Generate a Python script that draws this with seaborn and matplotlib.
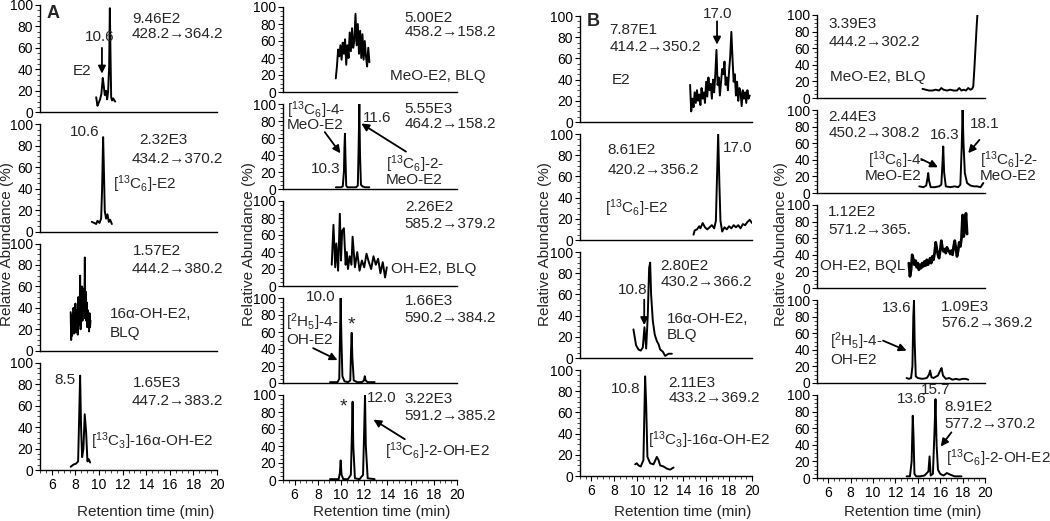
import matplotlib
matplotlib.use('Agg')
import matplotlib.pyplot as plt
from matplotlib.ticker import MultipleLocator
import seaborn as sns

sns.set_style('ticks')
plt.rcParams['font.family'] = ['Liberation Sans', 'DejaVu Sans']
plt.rcParams['mathtext.fontset'] = 'custom'
plt.rcParams['mathtext.rm'] = 'Liberation Sans'
plt.rcParams['mathtext.it'] = 'Liberation Sans:italic'
plt.rcParams['mathtext.bf'] = 'Liberation Sans:bold'

# ---- chromatogram traces (retention time in min, relative abundance in %) ----
# panel A, left column
a_e2_t = [9.76, 9.87, 9.98, 10.09, 10.2, 10.32, 10.4, 10.49, 10.6, 10.69, 10.77, 10.86, 10.92, 10.97, 11.03, 11.11, 11.2, 11.3, 11.37]
a_e2_y = [14, 6, 9, 12, 17, 32, 25, 16, 20, 12, 19, 43, 97, 58, 14, 11, 13, 11, 10]
a_c13e2_t = [9.39, 9.59, 9.76, 9.87, 10.04, 10.18, 10.26, 10.35, 10.41, 10.49, 10.6, 10.72, 10.83, 10.94, 11.09]
a_c13e2_y = [9, 8, 7, 10, 8, 12, 39, 88, 60, 19, 12, 16, 9, 11, 7]
a_oh16_t = [7.60, 7.64, 7.68, 7.72, 7.76, 7.80, 7.84, 7.88, 7.92, 7.96, 8.00, 8.04, 8.08, 8.12, 8.16,
            8.20, 8.24, 8.28, 8.32, 8.36, 8.40, 8.44, 8.48, 8.52, 8.56, 8.60, 8.64, 8.68, 8.72, 8.76,
            8.80, 8.84, 8.88, 8.92, 8.96, 9.00, 9.04, 9.08, 9.12, 9.16, 9.20, 9.24, 9.28]
a_oh16_y = [36, 10, 30, 14, 34, 18, 40, 16, 28, 20, 44, 17, 33, 22, 38,
            15, 50, 24, 42, 30, 70, 20, 55, 35, 60, 28, 52, 38, 58, 40,
            87, 30, 55, 28, 45, 22, 38, 25, 33, 18, 35, 22, 28]
a_c13oh16_t = [7.60, 7.83, 8.06, 8.23, 8.31, 8.40, 8.48, 8.57, 8.68, 8.79, 8.91, 9.02, 9.13, 9.25]
a_c13oh16_y = [3, 5, 6, 8, 45, 88, 40, 12, 20, 52, 35, 8, 10, 7]

# panel A, right column
a_meo_t = [9.55, 9.65, 9.75, 9.85, 9.95, 10.05, 10.15, 10.25, 10.35, 10.45, 10.55, 10.65, 10.75, 10.85, 10.95,
           11.05, 11.15, 11.25, 11.35, 11.45, 11.55, 11.65, 11.75, 11.85, 11.95, 12.05, 12.15, 12.25, 12.35, 12.45]
a_meo_y = [16, 30, 50, 42, 55, 38, 58, 45, 62, 32, 55, 40, 70, 48, 75,
           52, 60, 92, 55, 80, 45, 72, 40, 68, 38, 60, 42, 30, 52, 35]
a_c13meo_t = [9.56, 9.8, 10.0, 10.15, 10.25, 10.30, 10.34, 10.38, 10.45, 10.55, 10.8, 11.1, 11.3, 11.45,
              11.52, 11.58, 11.64, 11.72, 11.85, 12.1, 12.44]
a_c13meo_y = [2, 2, 2, 3, 20, 50, 65, 40, 4, 2, 2, 2, 2, 4, 50, 100, 40, 5, 3, 2, 2]
a_oh_t = [9.2, 9.35, 9.5, 9.6, 9.75, 9.9, 10.0, 10.1, 10.25, 10.4, 10.5, 10.6, 10.75, 10.9, 11.0,
          11.2, 11.4, 11.6, 11.8, 12.0, 12.2, 12.4, 12.6, 12.8, 13.0, 13.2, 13.4, 13.6, 13.8, 13.95]
a_oh_y = [25, 72, 22, 50, 18, 85, 30, 65, 68, 25, 40, 20, 35, 25, 58,
          22, 40, 18, 30, 22, 38, 28, 20, 35, 25, 32, 15, 28, 10, 22]
a_d5oh_t = [9.05, 9.4, 9.7, 9.85, 9.92, 9.97, 10.03, 10.12, 10.3, 10.6, 10.8, 10.87, 10.92, 10.98, 11.1,
            11.4, 11.8, 11.98, 12.05, 12.12, 12.3, 12.9]
a_d5oh_y = [1, 1, 1, 5, 60, 100, 55, 8, 2, 1, 3, 40, 59, 30, 3, 1, 1, 3, 8, 3, 1, 1]
a_c13oh_t = [9.05, 9.5, 9.8, 9.9, 9.97, 10.05, 10.2, 10.6, 10.85, 10.95, 11.0, 11.06, 11.2, 11.6,
             11.9, 12.0, 12.07, 12.14, 12.3, 12.9]
a_c13oh_y = [1, 1, 1, 8, 23, 6, 1, 1, 6, 60, 92, 40, 2, 1, 6, 60, 100, 40, 2, 1]

# panel B, left column
b_e2_t = [14.6, 14.7, 14.8, 14.9, 15.0, 15.1, 15.2, 15.3, 15.4, 15.5, 15.6, 15.7, 15.8, 15.9, 16.0, 16.1, 16.2, 16.3,
          16.4, 16.5, 16.6, 16.7, 16.8, 16.9, 17.0, 17.1, 17.2, 17.3, 17.4, 17.5, 17.6, 17.7, 17.8, 17.9, 18.0, 18.1,
          18.2, 18.3, 18.4, 18.5, 18.6, 18.7, 18.8, 18.9, 19.0, 19.1, 19.2, 19.3, 19.4, 19.5, 19.6, 19.7, 19.8]
b_e2_y = [35, 10, 22, 14, 28, 18, 30, 20, 26, 16, 32, 22, 28, 18, 38, 24, 42, 30,
          36, 22, 40, 28, 45, 68, 35, 42, 25, 38, 50, 45, 57, 35, 42, 30, 48, 62,
          85, 60, 38, 45, 25, 38, 20, 32, 28, 15, 30, 22, 28, 18, 30, 22, 25]
b_c13e2_t = [14.9, 15.0, 15.2, 15.4, 15.5, 15.7, 15.9, 16.1, 16.3, 16.5, 16.7, 16.85, 16.95, 17.05, 17.15,
             17.25, 17.4, 17.6, 17.8, 18.0, 18.2, 18.4, 18.6, 18.8, 19.0, 19.2, 19.4, 19.6, 19.8, 20.0]
b_c13e2_y = [5, 9, 10, 13, 11, 16, 12, 10, 12, 14, 11, 18, 60, 100, 55, 18, 8, 12, 10, 13, 11, 14, 12, 14, 11, 15, 14, 17, 19, 16]
b_oh16_t = [9.66, 9.89, 10.10, 10.30, 10.48, 10.62, 10.77, 10.91, 11.03, 11.12, 11.2, 11.35, 11.52, 11.70,
            11.85, 11.99, 12.22, 12.43, 12.72, 13.01]
b_oh16_y = [27, 12, 8, 7, 10, 29, 9, 40, 85, 90, 60, 35, 22, 16, 13, 8, 6, 2, 4, 4]
b_c13oh16_t = [9.81, 9.95, 10.10, 10.30, 10.53, 10.68, 10.77, 10.88, 11.12, 11.41, 11.70, 11.85, 11.99,
               12.28, 12.57, 12.86, 13.16]
b_c13oh16_y = [11, 12, 10, 9, 15, 94, 68, 18, 12, 11, 18, 15, 10, 9, 7, 6, 8]

# panel B, right column
b_meo_t = [14.42, 14.7, 15.0, 15.3, 15.6, 15.9, 16.1, 16.3, 16.6, 16.9, 17.2, 17.5, 17.7, 17.9, 18.1, 18.3,
           18.5, 18.7, 18.85, 18.95, 19.05, 19.15, 19.25, 19.32]
b_meo_y = [11, 10, 9, 9, 10, 9, 12, 10, 9, 10, 9, 9, 12, 9, 10, 9, 12, 10, 11, 14, 35, 60, 85, 100]
b_c13meo_t = [14.13, 14.5, 14.75, 14.87, 14.93, 15.0, 15.15, 15.5, 15.9, 16.1, 16.2, 16.27, 16.35, 16.5,
              16.9, 17.3, 17.6, 17.8, 17.92, 18.0, 18.08, 18.2, 18.4, 18.7, 19.0, 19.3, 19.6, 19.85]
b_c13meo_y = [8, 7, 9, 18, 24, 15, 7, 7, 8, 10, 35, 56, 25, 8, 7, 8, 7, 10, 55, 100, 60, 24, 12, 9, 8, 8, 7, 12]
b_oh_t = [13.2, 13.3, 13.4, 13.5, 13.6, 13.7, 13.8, 13.9, 14.0, 14.1, 14.2, 14.3, 14.4, 14.5, 14.6, 14.7, 14.8,
          14.9, 15.0, 15.1, 15.2, 15.3, 15.4, 15.5, 15.6, 15.7, 15.8, 15.9, 16.0, 16.1, 16.2, 16.3, 16.4, 16.5,
          16.6, 16.7, 16.8, 16.9, 17.0, 17.1, 17.2, 17.3, 17.4, 17.5, 17.6, 17.7, 17.8, 17.9, 18.0, 18.1, 18.2,
          18.3, 18.4]
b_oh_y = [30, 14, 22, 40, 35, 28, 33, 25, 30, 22, 28, 24, 30, 26, 32, 27, 34,
          28, 31, 36, 30, 38, 34, 42, 55, 47, 40, 36, 45, 57, 48, 44, 47, 42,
          49, 46, 44, 41, 45, 40, 50, 57, 48, 38, 45, 55, 50, 60, 88, 62, 75,
          90, 65]
b_d5oh_t = [13.0, 13.2, 13.4, 13.52, 13.6, 13.66, 13.72, 13.82, 14.0, 14.4, 14.8, 15.0, 15.1, 15.22, 15.4,
            15.8, 16.0, 16.12, 16.25, 16.5, 16.8, 17.1, 17.4, 17.7, 18.0, 18.3, 18.5]
b_d5oh_y = [6, 5, 6, 20, 80, 99, 50, 8, 6, 5, 6, 10, 15, 7, 6, 9, 15, 18, 9, 5, 6, 4, 5, 4, 5, 5, 4]
b_c13oh_t = [13.0, 13.3, 13.45, 13.55, 13.62, 13.7, 13.85, 14.2, 14.6, 14.95, 15.05, 15.15, 15.35, 15.5,
             15.58, 15.68, 15.8, 16.0, 16.3, 16.6, 16.9, 17.3, 17.9]
b_c13oh_y = [2, 2, 20, 75, 50, 5, 2, 2, 3, 8, 26, 3, 5, 60, 95, 40, 10, 5, 3, 6, 4, 2, 2]

x_ticks = [6, 8, 10, 12, 14, 16, 18, 20]
y_ticks = [0, 20, 40, 60, 80, 100]

C6 = r'[$\mathregular{^{13}}$C$\mathregular{_6}$]'
C3 = r'[$\mathregular{^{13}}$C$\mathregular{_3}$]'
H5 = r'[$\mathregular{^{2}}$H$\mathregular{_5}$]'

W, H = 1050, 521
fig = plt.figure(figsize=(W / 100, H / 100), dpi=100)

# columns: (left px, right px, top px, bottom px, traces)
columns = [
    (40, 217, 5, 470, [(a_e2_t, a_e2_y), (a_c13e2_t, a_c13e2_y), (a_oh16_t, a_oh16_y),
                       (a_c13oh16_t, a_c13oh16_y)]),
    (283, 457, 7, 480, [(a_meo_t, a_meo_y), (a_c13meo_t, a_c13meo_y), (a_oh_t, a_oh_y),
                        (a_d5oh_t, a_d5oh_y), (a_c13oh_t, a_c13oh_y)]),
    (580, 752, 16, 476, [(b_e2_t, b_e2_y), (b_c13e2_t, b_c13e2_y), (b_oh16_t, b_oh16_y),
                         (b_c13oh16_t, b_c13oh16_y)]),
    (817, 985, 15, 478, [(b_meo_t, b_meo_y), (b_c13meo_t, b_c13meo_y), (b_oh_t, b_oh_y),
                         (b_d5oh_t, b_d5oh_y), (b_c13oh_t, b_c13oh_y)]),
]

axes = []
for left, right, top, bottom, traces in columns:
    n = len(traces)
    gap = 12
    h = (bottom - top - gap * (n - 1)) / n
    col_axes = []
    for i, (t, y) in enumerate(traces):
        y0 = top + i * (h + gap)
        ax = fig.add_axes([left / W, 1 - (y0 + h) / H, (right - left) / W, h / H])
        lw = 2.0 if t is b_oh_t else 1.4
        sns.lineplot(x=t, y=y, ax=ax, color='black', linewidth=lw, estimator=None, sort=False)
        ax.set_xlim(5, 20)
        ax.set_ylim(0, 100)
        ax.set_xlabel('')
        ax.set_ylabel('')
        for s in ['top', 'right']:
            ax.spines[s].set_visible(False)
        for s in ['left', 'bottom']:
            ax.spines[s].set_linewidth(1.0)
            ax.spines[s].set_color('black')
        ax.set_yticks(y_ticks)
        ax.yaxis.set_minor_locator(MultipleLocator(5))
        ax.tick_params(axis='y', which='major', direction='out', length=3.5, width=0.8,
                       labelsize=10, pad=1.5, colors='black')
        ax.tick_params(axis='y', which='minor', direction='out', length=2, width=0.6)
        if i == n - 1:
            ax.set_xticks(x_ticks)
            ax.xaxis.set_minor_locator(MultipleLocator(0.5))
            ax.tick_params(axis='x', which='major', direction='out', length=3.5, width=0.8,
                           labelsize=10, pad=2, colors='black')
            ax.tick_params(axis='x', which='minor', direction='out', length=2, width=0.6)
        else:
            ax.set_xticks([])
            ax.tick_params(axis='x', which='both', bottom=False, labelbottom=False)
        col_axes.append(ax)
    axes.append(col_axes)

arrow = dict(arrowstyle='-|>', color='black', lw=1.3, mutation_scale=11, shrinkA=0, shrinkB=0)


def txt(ax, x, y, s, ha='left', size=11, weight='normal'):
    ax.text(x, y, s, ha=ha, va='center', fontsize=size, fontweight=weight)


def arr(ax, tail, tip):
    ax.annotate('', xy=tip, xytext=tail, arrowprops=arrow, annotation_clip=False)


# panel A, left column
ax = axes[0][0]
txt(ax, 5.55, 92, 'A', weight='bold', size=13)
txt(ax, 10.05, 70, '10.6', ha='center')
arr(ax, (10.25, 60), (10.25, 36))
txt(ax, 8.55, 38, 'E2', ha='center')
txt(ax, 12.8, 87, '9.46E2')
txt(ax, 12.75, 73, '428.2→364.2')
ax = axes[0][1]
txt(ax, 8.8, 93, '10.6', ha='center')
txt(ax, 13.4, 85, '2.32E3')
txt(ax, 12.75, 68, '434.2→370.2')
txt(ax, 11.2, 44, C6 + '-E2')
ax = axes[0][2]
txt(ax, 12.85, 93, '1.57E2')
txt(ax, 12.75, 76, '444.2→380.2')
txt(ax, 10.9, 34, '16α-OH-E2,')
txt(ax, 10.9, 17, 'BLQ')
ax = axes[0][3]
txt(ax, 7.1, 84, '8.5', ha='center')
txt(ax, 12.85, 81, '1.65E3')
txt(ax, 12.75, 64, '447.2→383.2')
txt(ax, 9.3, 27, C3 + '-16α-OH-E2')

# panel A, right column
ax = axes[1][0]
txt(ax, 15.5, 87, '5.00E2')
txt(ax, 15.5, 70, '458.2→158.2')
txt(ax, 14.2, 19, 'MeO-E2, BLQ')
ax = axes[1][1]
txt(ax, 15.5, 94, '5.55E3')
txt(ax, 15.5, 76, '464.2→158.2')
txt(ax, 5.35, 93, C6 + '-4-')
txt(ax, 5.35, 75, 'MeO-E2')
arr(ax, (8.6, 67), (9.95, 42))
txt(ax, 9.99, 23, '10.3', ha='right')
txt(ax, 11.85, 83, '11.6')
arr(ax, (15.6, 44), (11.75, 77))
txt(ax, 13.9, 29, C6 + '-2-')
txt(ax, 13.9, 11, 'MeO-E2')
ax = axes[1][2]
txt(ax, 15.5, 93, '2.26E2')
txt(ax, 15.5, 73, '585.2→379.2')
txt(ax, 14.35, 20, 'OH-E2, BLQ')
ax = axes[1][3]
txt(ax, 9.55, 101, '10.0', ha='right')
txt(ax, 10.9, 68, '*', ha='center', size=14)
txt(ax, 5.3, 72, H5 + '-4-')
txt(ax, 5.3, 50, 'OH-E2')
arr(ax, (7.6, 41), (9.7, 27))
txt(ax, 15.5, 96, '1.66E3')
txt(ax, 15.5, 76, '590.2→384.2')
ax = axes[1][4]
txt(ax, 10.2, 86, '*', ha='center', size=14)
txt(ax, 12.25, 96, '12.0')
txt(ax, 15.5, 95, '3.22E3')
txt(ax, 15.5, 75, '591.2→385.2')
txt(ax, 13.8, 34, C6 + '-2-OH-E2')
arr(ax, (15.5, 48), (12.8, 71))

# panel B, left column
ax = axes[2][0]
txt(ax, 5.6, 95, 'B', weight='bold', size=13)
txt(ax, 7.55, 87, '7.87E1')
txt(ax, 7.55, 71, '414.2→350.2')
txt(ax, 7.75, 40, 'E2')
txt(ax, 17.0, 102, '17.0', ha='center')
arr(ax, (16.95, 95), (16.95, 73))
ax = axes[2][1]
txt(ax, 17.5, 87, '17.0')
txt(ax, 7.4, 85, '8.61E2')
txt(ax, 7.4, 66, '420.2→356.2')
txt(ax, 7.2, 30, C6 + '-E2')
ax = axes[2][2]
txt(ax, 12.0, 87, '2.80E2')
txt(ax, 12.0, 72, '430.2→366.2')
txt(ax, 10.9, 64, '10.8', ha='right')
arr(ax, (10.6, 55), (10.6, 31))
txt(ax, 12.55, 37, '16α-OH-E2,')
txt(ax, 12.55, 22, 'BLQ')
ax = axes[2][3]
txt(ax, 10.3, 82, '10.8', ha='right')
txt(ax, 12.7, 88, '2.11E3')
txt(ax, 12.7, 74, '433.2→369.2')
txt(ax, 10.95, 34, C3 + '-16α-OH-E2')

# panel B, right column
ax = axes[3][0]
txt(ax, 6.0, 89, '3.39E3')
txt(ax, 6.0, 68, '444.2→302.2')
txt(ax, 6.2, 25, 'MeO-E2, BLQ')
ax = axes[3][1]
txt(ax, 6.0, 92, '2.44E3')
txt(ax, 6.0, 72, '450.2→308.2')
txt(ax, 16.4, 70, '16.3', ha='center')
txt(ax, 18.65, 83, '18.1')
arr(ax, (19.5, 64), (18.5, 48))
txt(ax, 9.55, 40, C6 + '-4-')
txt(ax, 9.25, 20, 'MeO-E2')
arr(ax, (14.3, 41), (15.8, 31))
txt(ax, 19.55, 40, C6 + '-2-')
txt(ax, 19.55, 20, 'MeO-E2')
ax = axes[3][2]
txt(ax, 6.0, 91, '1.12E2')
txt(ax, 6.0, 70, '571.2→365.')
txt(ax, 5.25, 26, 'OH-E2, BQL')
ax = axes[3][3]
txt(ax, 13.45, 90, '13.6', ha='right')
txt(ax, 16.1, 92, '1.09E3')
txt(ax, 16.1, 72, '576.2→369.2')
txt(ax, 6.15, 50, H5 + '-4-')
txt(ax, 6.15, 28, 'OH-E2')
arr(ax, (10.9, 51), (13.0, 39))
ax = axes[3][4]
txt(ax, 14.75, 95, '13.6', ha='right')
txt(ax, 15.55, 106, '15.7', ha='center')
txt(ax, 16.4, 85, '8.91E2')
txt(ax, 16.4, 65, '577.2→370.2')
arr(ax, (17.0, 55), (16.05, 38))
txt(ax, 16.5, 24, C6 + '-2-OH-E2')

# axis titles for each column
ylab_x = [7, 249, 545, 781]
xlab_x = [146, 382, 683, 913]
for yx, xx in zip(ylab_x, xlab_x):
    fig.text(yx / W, 1 - 244 / H, 'Relative Abundance (%)', rotation=90, ha='center', va='center', fontsize=11)
    fig.text(xx / W, 1 - 512 / H, 'Retention time (min)', ha='center', va='center', fontsize=11)

fig.savefig('out.png', dpi=100)
